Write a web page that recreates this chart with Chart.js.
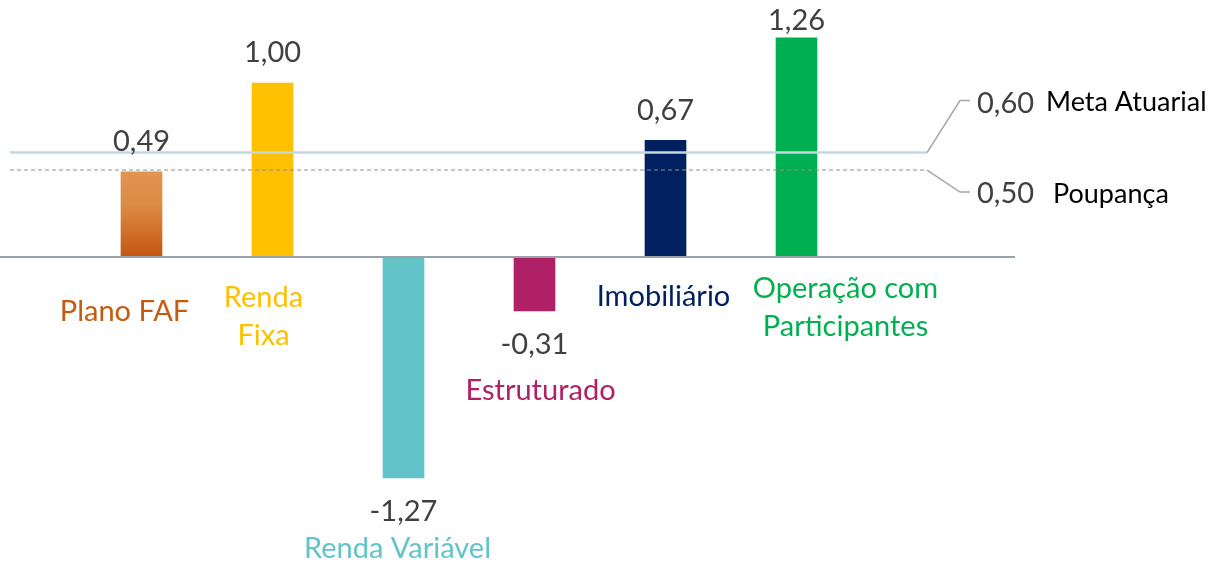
<!DOCTYPE html>
<html>
<head>
<meta charset="utf-8">
<script src="https://cdn.jsdelivr.net/npm/chart.js@4.4.1/dist/chart.umd.min.js"></script>
<style>
  html, body { margin: 0; padding: 0; background: #fff; }
  #wrap { width: 1224px; height: 564px; position: relative; }
</style>
</head>
<body>
<div id="wrap"><canvas id="chart" width="1224" height="564"></canvas></div>
<script>
// data
var categories = ['Plano FAF', ['Renda', 'Fixa'], 'Renda Variável', 'Estruturado', 'Imobiliário', ['Operação com', 'Participantes']];
var returns = [0.49, 1.00, -1.27, -0.31, 0.67, 1.26];
var metaAtuarial = 0.60;
var poupanca = 0.50;

// styling
var barColors = [null, '#ffc000', '#62c4c9', '#b02066', '#002060', '#00b050'];
var textColors = ['#c55a11', '#ffc000', '#62c4c9', '#b02066', '#002060', '#00b050'];
// label offsets (px) relative to bar centre / baseline or bar end
var labelLayout = [
  { dx: -17, dy: 55 },
  { dx: -9, dy: 41 },
  { dx: -6, dy: 71 },
  { dx: 6, dy: 80 },
  { dx: -2, dy: 40 },
  { dx: 49, dy: 32 }
];
var FONT = 'Lato, "Open Sans", sans-serif';

function fmt(v) {
  return v.toFixed(2).replace('.', ',');
}

var overlay = {
  id: 'overlay',
  afterDatasetsDraw: function (chart) {
    var ctx = chart.ctx;
    var y = chart.scales.y;
    var meta = chart.getDatasetMeta(0);
    var y0 = y.getPixelForValue(0);
    var yMeta = y.getPixelForValue(metaAtuarial);
    var yPoup = y.getPixelForValue(poupanca);

    ctx.save();
    // baseline
    ctx.strokeStyle = '#9aa3ab';
    ctx.lineWidth = 2;
    ctx.beginPath();
    ctx.moveTo(0, y0);
    ctx.lineTo(1015, y0);
    ctx.stroke();

    // meta atuarial
    ctx.strokeStyle = '#c5d8de';
    ctx.lineWidth = 2.5;
    ctx.beginPath();
    ctx.moveTo(10, yMeta);
    ctx.lineTo(927, yMeta);
    ctx.stroke();

    // poupanca
    ctx.strokeStyle = '#8f8f8f';
    ctx.lineWidth = 1;
    ctx.setLineDash([4, 3]);
    ctx.beginPath();
    ctx.moveTo(10, yPoup);
    ctx.lineTo(927, yPoup);
    ctx.stroke();
    ctx.setLineDash([]);

    // leader lines
    ctx.strokeStyle = '#a6a6a6';
    ctx.lineWidth = 1.5;
    ctx.beginPath();
    ctx.moveTo(927, yMeta);
    ctx.lineTo(960, yMeta - 52);
    ctx.lineTo(970, yMeta - 52);
    ctx.moveTo(927, yPoup);
    ctx.lineTo(960, yPoup + 22);
    ctx.lineTo(970, yPoup + 22);
    ctx.stroke();

    ctx.textBaseline = 'middle';
    ctx.textAlign = 'left';
    ctx.font = '29px ' + FONT;
    ctx.fillStyle = '#404040';
    ctx.fillText(fmt(metaAtuarial), 977, yMeta - 49);
    ctx.fillText(fmt(poupanca), 977, yPoup + 24);
    ctx.font = '27px ' + FONT;
    ctx.fillStyle = '#000';
    ctx.fillText('Meta Atuarial', 1046, yMeta - 50);
    ctx.fillText('Poupança', 1053, yPoup + 24);

    // values and category labels
    ctx.textAlign = 'center';
    meta.data.forEach(function (bar, i) {
      var v = returns[i];
      var end = bar.y;
      ctx.font = '29px ' + FONT;
      ctx.fillStyle = '#404040';
      var vy = v >= 0 ? Math.max(end - 30, 21) : end + 34;
      ctx.fillText(fmt(v), bar.x, vy);

      var lines = Array.isArray(categories[i]) ? categories[i] : [categories[i]];
      var ly = (v >= 0 ? y0 : end) + labelLayout[i].dy;
      ctx.font = '29px ' + FONT;
      ctx.fillStyle = textColors[i];
      lines.forEach(function (t, k) {
        ctx.fillText(t, bar.x + labelLayout[i].dx, ly + k * 38);
      });
    });
    ctx.restore();
  }
};

var ctx = document.getElementById('chart').getContext('2d');
new Chart(ctx, {
  type: 'bar',
  data: {
    labels: categories.map(function (c) { return Array.isArray(c) ? c.join(' ') : c; }),
    datasets: [{
      data: returns,
      barThickness: 41,
      borderWidth: 0,
      backgroundColor: function (c) {
        var i = c.dataIndex;
        if (i !== 0) return barColors[i];
        var area = c.chart.chartArea;
        if (!area) return '#d9813a';
        var ys = c.chart.scales.y;
        var g = c.chart.ctx.createLinearGradient(0, ys.getPixelForValue(returns[0]), 0, ys.getPixelForValue(0));
        g.addColorStop(0, '#e29550');
        g.addColorStop(0.4, '#dd8a44');
        g.addColorStop(1, '#c4560f');
        return g;
      }
    }]
  },
  options: {
    responsive: false,
    animation: false,
    layout: { padding: { left: 76, right: 362, top: 0, bottom: 0 } },
    plugins: { legend: { display: false }, tooltip: { enabled: false } },
    scales: {
      x: { display: false, offset: true, grid: { display: false } },
      y: { display: false, min: -1.764, max: 1.477 }
    }
  },
  plugins: [overlay]
});
</script>
</body>
</html>
